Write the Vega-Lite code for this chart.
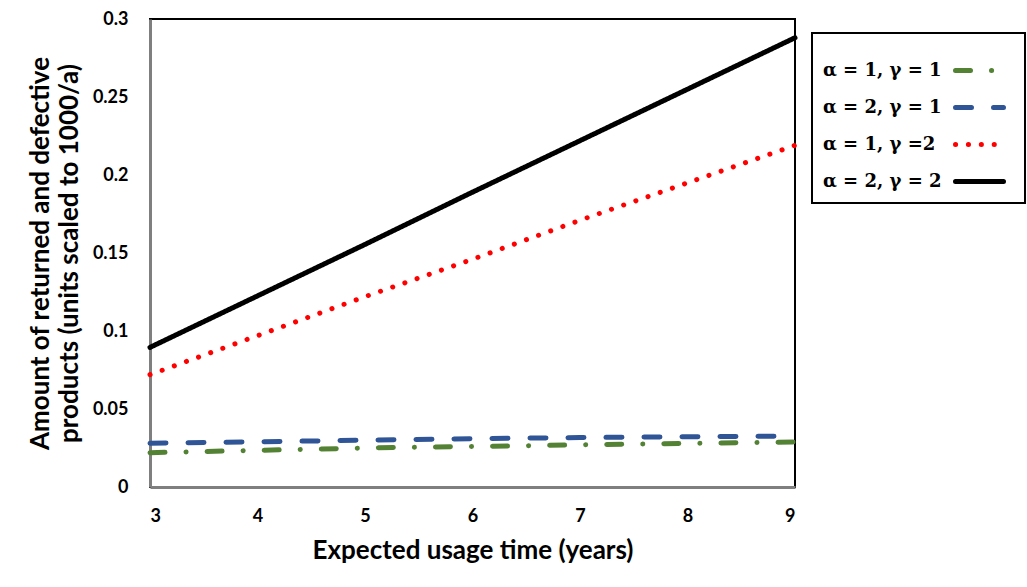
{
  "$schema": "https://vega.github.io/schema/vega-lite/v6.json",
  "width": 645,
  "height": 468,
  "autosize": {"type": "none"},
  "padding": {"left": 150, "top": 19, "right": 232, "bottom": 100},
  "background": "white",
  "config": {
    "view": {"stroke": "black", "strokeWidth": 2},
    "font": "Lato"
  },
  "data": {
    "values": [
      {"t": 3, "v": 0.022, "s": "s1"},
      {"t": 4, "v": 0.0235, "s": "s1"},
      {"t": 5, "v": 0.025, "s": "s1"},
      {"t": 6, "v": 0.026, "s": "s1"},
      {"t": 7, "v": 0.027, "s": "s1"},
      {"t": 8, "v": 0.028, "s": "s1"},
      {"t": 9, "v": 0.0288, "s": "s1"},
      {"t": 3, "v": 0.028, "s": "s2"},
      {"t": 4, "v": 0.029, "s": "s2"},
      {"t": 5, "v": 0.030, "s": "s2"},
      {"t": 6, "v": 0.031, "s": "s2"},
      {"t": 7, "v": 0.0317, "s": "s2"},
      {"t": 8, "v": 0.0322, "s": "s2"},
      {"t": 9, "v": 0.0326, "s": "s2"},
      {"t": 3, "v": 0.072, "s": "s3"},
      {"t": 4, "v": 0.097, "s": "s3"},
      {"t": 5, "v": 0.122, "s": "s3"},
      {"t": 6, "v": 0.146, "s": "s3"},
      {"t": 7, "v": 0.171, "s": "s3"},
      {"t": 8, "v": 0.195, "s": "s3"},
      {"t": 9, "v": 0.219, "s": "s3"},
      {"t": 3, "v": 0.0895, "s": "s4"},
      {"t": 4, "v": 0.1225, "s": "s4"},
      {"t": 5, "v": 0.1555, "s": "s4"},
      {"t": 6, "v": 0.189, "s": "s4"},
      {"t": 7, "v": 0.222, "s": "s4"},
      {"t": 8, "v": 0.255, "s": "s4"},
      {"t": 9, "v": 0.288, "s": "s4"}
    ]
  },
  "mark": {"type": "line", "strokeCap": "round", "clip": false},
  "encoding": {
    "x": {
      "field": "t", "type": "quantitative",
      "scale": {"domain": [3, 9], "nice": false},
      "axis": {
        "values": [3, 4, 5, 6, 7, 8, 9], "grid": false, "ticks": false,
        "domainColor": "#7f7f7f", "domainWidth": 3,
        "labelFontSize": 18, "labelFontWeight": "bold", "labelColor": "black", "labelPadding": 20,
        "title": "Expected usage time (years)", "titleFontSize": 26, "titleFontWeight": "bold",
        "titleColor": "black", "titlePadding": 12
      }
    },
    "y": {
      "field": "v", "type": "quantitative",
      "scale": {"domain": [0, 0.3], "nice": false},
      "axis": {
        "values": [0, 0.05, 0.1, 0.15, 0.2, 0.25, 0.3], "grid": false, "ticks": false, "format": "~g",
        "domainColor": "#7f7f7f", "domainWidth": 3,
        "labelFontSize": 18, "labelFontWeight": "bold", "labelColor": "black", "labelPadding": 22,
        "title": ["Amount of returned and defective", "products (units scaled to 1000/a)"],
        "titleFontSize": 26, "titleFontWeight": "bold", "titleColor": "black",
        "titlePadding": 10, "titleLineHeight": 29
      }
    },
    "color": {
      "field": "s", "type": "nominal",
      "scale": {
        "domain": ["s1", "s2", "s3", "s4"],
        "range": ["#548235", "#2f5597", "#ff0000", "#000000"]
      },
      "legend": {
        "title": null, "orient": "none", "legendX": 662, "legendY": 14,
        "strokeColor": "black", "padding": 11, "fillColor": "white",
        "encode": {
          "legend": {"update": {"strokeWidth": {"value": 2}}},
          "symbols": {"update": {"strokeCap": {"value": "round"}}}
        },
        "labelExpr": "datum.value == 's1' ? 'α = 1, γ = 1' : datum.value == 's2' ? 'α = 2, γ = 1' : datum.value == 's3' ? 'α = 1, γ =2' : 'α = 2, γ = 2'",
        "labelFont": "DejaVu Serif", "labelFontSize": 18, "labelFontWeight": "bold", "labelColor": "black",
        "symbolType": "stroke", "symbolSize": 2304, "symbolStrokeWidth": 5,
        "symbolOffset": 130, "labelOffset": -183, "rowPadding": -5
      }
    },
    "strokeDash": {
      "field": "s", "type": "nominal",
      "scale": {
        "domain": ["s1", "s2", "s3", "s4"],
        "range": [[15, 21, 0.1, 21], [16, 22], [0.1, 12.8], [1, 0]]
      },
      "legend": null
    },
    "strokeWidth": {
      "field": "s", "type": "nominal",
      "scale": {
        "domain": ["s1", "s2", "s3", "s4"],
        "range": [5, 5, 6, 3.5]
      },
      "legend": null
    }
  }
}
